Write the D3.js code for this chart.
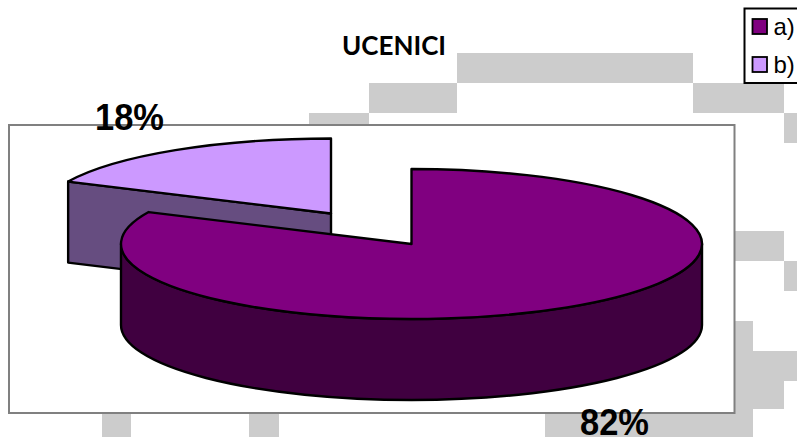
<!DOCTYPE html>
<html><head><meta charset="utf-8">
<script src="https://cdn.jsdelivr.net/npm/d3@7"></script>
<style>html,body{margin:0;padding:0;background:#fff;overflow:hidden}svg{display:block}</style>
</head><body><svg id="c" width="797" height="437"></svg>
<script>
const categories = ["a)", "b)"];
const values = [82, 18];
const labels = ["82%", "18%"];
const title = "UCENICI";
const topColors = ["#800080", "#cc99ff"];
const sideColors = ["#400040", "#664d80"];
const bgCols = [457,369,693,309,784,735,784,735,735,735,735,102,249,545];
const bgRows = [53,83,83,113,113,231,261,321,351,381,408,409,409,409];
const bgW = [236,88,91,60,13,49,13,18,62,49,18,29,30,190];
const bgH = [30,30,30,12,30,30,30,30,30,28,29,28,28,28];

const svg = d3.select("#c");
svg.append("g").selectAll("rect").data(bgCols).join("rect")
  .attr("x", d => d).attr("y", (d,i) => bgRows[i]).attr("width", (d,i) => bgW[i]).attr("height", (d,i) => bgH[i]).attr("fill", "#cccccc");

svg.append("rect").attr("x", 9).attr("y", 125).attr("width", 725.5).attr("height", 288)
  .attr("fill", "#fff").attr("stroke", "#808080").attr("stroke-width", 2);

const pie = d3.pie().sort(null).value(d => d)(values);
const rx = 290.5, ry = 75, depth = 81;
const centers = [[411.5, 244], [331, 213.5]];
const pt = (c, a, dy = 0) => [c[0] + rx * Math.sin(a), c[1] - ry * Math.cos(a) + dy];
const stroke = { stroke: "#000", "stroke-width": 2.4, "stroke-linejoin": "round" };
function sty(s, fill) { s.attr("fill", fill); for (const k in stroke) s.attr(k, stroke[k]); return s; }

{
  const p = pie[1], c = centers[1];
  const s = pt(c, p.startAngle), e = pt(c, p.endAngle);
  const path = d3.path();
  path.moveTo(s[0], s[1]); path.lineTo(c[0], c[1]); path.lineTo(c[0], c[1] + depth); path.lineTo(s[0], s[1] + depth); path.closePath();
  sty(svg.append("path").attr("d", path.toString()), sideColors[1]);
  sty(svg.append("path").attr("d", `M${c[0]},${c[1]}L${s[0]},${s[1]}A${rx},${ry} 0 0 1 ${e[0]},${e[1]}Z`), topColors[1]);
}
{
  const p = pie[0], c = centers[0];
  const s = pt(c, p.startAngle), e = pt(c, p.endAngle);
  const l = pt(c, -Math.PI/2), r = pt(c, Math.PI/2);
  sty(svg.append("path").attr("d", `M${l[0]},${l[1]}A${rx},${ry} 0 0 0 ${r[0]},${r[1]}L${r[0]},${r[1]+depth}A${rx},${ry} 0 0 1 ${l[0]},${l[1]+depth}Z`), sideColors[0]);
  sty(svg.append("path").attr("d", `M${c[0]},${c[1]}L${s[0]},${s[1]}A${rx},${ry} 0 1 1 ${e[0]},${e[1]}Z`), topColors[0]);
}

svg.append("text").attr("x", 394).attr("y", 55).attr("text-anchor", "middle")
  .attr("font-family", "Lato, 'Open Sans', sans-serif").attr("font-weight", 700).attr("font-size", 26).attr("fill", "#000").text(title);

const labelPos = [[580, 435], [95, 130]];
svg.append("g").selectAll("text").data(labels).join("text")
  .attr("x", (d,i) => labelPos[i][0]).attr("y", (d,i) => labelPos[i][1])
  .attr("textLength", 69).attr("lengthAdjust", "spacingAndGlyphs")
  .attr("font-family", "'Liberation Sans', Arial, sans-serif").attr("font-weight", 700).attr("font-size", 37).attr("fill", "#000").text(d => d);

svg.append("rect").attr("x", 744.5).attr("y", 8.5).attr("width", 70).attr("height", 74.5).attr("fill", "#fff").attr("stroke", "#000").attr("stroke-width", 2);
const legendY = d3.scalePoint().domain(categories).range([26.5, 64.5]);
const lg = svg.append("g").selectAll("g").data(categories).join("g");
lg.append("rect").attr("x", 752.5).attr("y", d => legendY(d) - 7.5).attr("width", 14.5).attr("height", 15)
  .attr("fill", (d,i) => topColors[i]).attr("stroke", "#000").attr("stroke-width", 1.8);
lg.append("text").attr("x", 773.5).attr("y", d => legendY(d) + 8.5)
  .attr("font-family", "'Liberation Sans', Arial, sans-serif").attr("font-size", 24).attr("fill", "#000").text(d => d);
</script></body></html>
